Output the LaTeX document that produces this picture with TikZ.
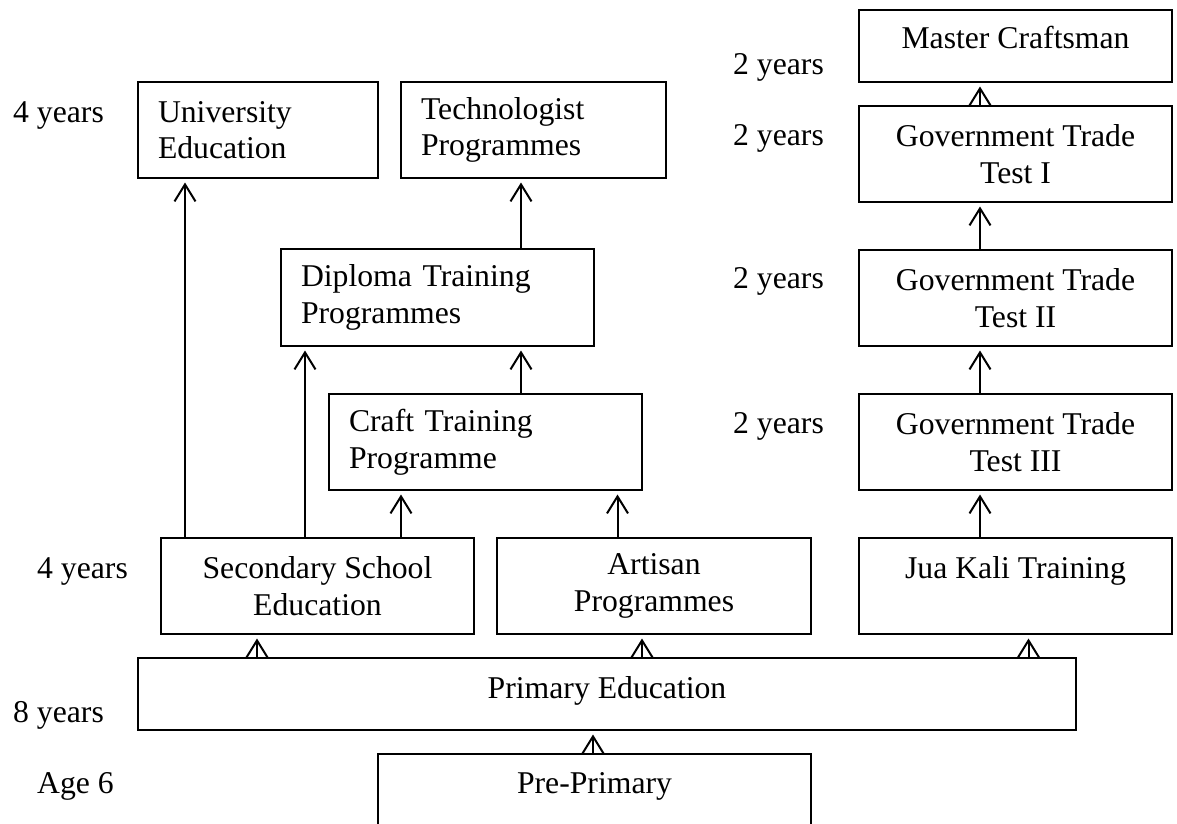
\documentclass[tikz,border=0pt]{standalone}
\usepackage{fontspec}
\setmainfont{Liberation Serif}
\usetikzlibrary{arrows.meta}
\begin{document}
\begin{tikzpicture}[x=1pt,y=-1pt,
  font=\fontsize{31.7}{36.5}\selectfont,
  box/.style={draw, line width=2pt, inner sep=0pt, align=center},
  lbox/.style={draw, line width=2pt, inner xsep=20pt, inner ysep=0pt, align=left},
  arr/.style={line width=2pt, -{Straight Barb[length=17pt,width=21pt]}, shorten >=3.5pt},
  yrs/.style={anchor=base west, inner sep=0pt}]
\useasboundingbox (0,0) rectangle (1177,823);
\clip (0,0) rectangle (1177,823);

% left / middle column
\node[lbox, text width=200pt, minimum width=240pt, minimum height=96pt] (univ) at (258,130) {University\\Education};
\node[lbox, text width=225pt, minimum width=265pt, minimum height=96pt] (tech) at (533.5,130) {Technologist\\Programmes};
\node[lbox, text width=273pt, minimum width=313pt, minimum height=97pt] (dipl) at (437.5,297.5) {Diploma Training\\Programmes};
\node[lbox, text width=273pt, minimum width=313pt, minimum height=96pt] (craft) at (485.5,442) {Craft Training\\Programme};
\node[box, minimum width=313pt, minimum height=96pt] (sec) at (317.5,586) {Secondary School\\Education};
\node[box, minimum width=314pt, minimum height=96pt] (art) at (654,586) {Artisan\\Programmes};
\node[box, minimum width=938pt, minimum height=72pt, text height=22pt, text depth=14pt] (prim) at (607,694) {Primary Education};
\node[box, minimum width=433pt, minimum height=96pt, text height=22pt, text depth=40pt] (pre) at (594.5,802) {Pre-Primary};

% right column
\node[box, minimum width=313pt, minimum height=72pt, text height=22pt, text depth=18pt] (master) at (1015.5,46) {Master Craftsman};
\node[box, minimum width=313pt, minimum height=96pt] (gt1) at (1015.5,154) {Government Trade\\Test I};
\node[box, minimum width=313pt, minimum height=96pt] (gt2) at (1015.5,298) {Government Trade\\Test II};
\node[box, minimum width=313pt, minimum height=96pt] (gt3) at (1015.5,442) {Government Trade\\Test III};
\node[box, minimum width=313pt, minimum height=96pt, text height=22pt, text depth=38pt] (jua) at (1015.5,586) {Jua Kali Training};

% durations
\node[yrs] (yU) at (13,122) {4 years};
\node[yrs] (yM) at (733,74) {2 years};
\node[yrs] (yG1) at (733,145) {2 years};
\node[yrs] (yG2) at (733,288) {2 years};
\node[yrs] (yG3) at (733,433) {2 years};
\node[yrs] (yS) at (37,578) {4 years};
\node[yrs] (yP) at (13,722) {8 years};
\node[yrs] (yA) at (37,793) {Age 6};

% connector columns
\coordinate (cU) at (185,0);
\coordinate (cD) at (305,0);
\coordinate (cC) at (401,0);
\coordinate (cT) at (521,0);
\coordinate (cA) at (617.5,0);
\coordinate (pS) at (257,0);
\coordinate (pA) at (642,0);
\coordinate (pJ) at (1028.5,0);
\coordinate (cR) at (980,0);
\coordinate (cP) at (593,0);

% progression arrows
\draw[arr] (sec.north -| cU) -- (univ.south -| cU);
\draw[arr] (sec.north -| cD) -- (dipl.south -| cD);
\draw[arr] (sec.north -| cC) -- (craft.south -| cC);
\draw[arr] (craft.north -| cT) -- (dipl.south -| cT);
\draw[arr] (dipl.north -| cT) -- (tech.south -| cT);
\draw[arr] (art.north -| cA) -- (craft.south -| cA);
\draw[arr] (prim.north -| pS) -- (sec.south -| pS);
\draw[arr] (prim.north -| pA) -- (art.south -| pA);
\draw[arr] (prim.north -| pJ) -- (jua.south -| pJ);
\draw[arr] (pre.north -| cP) -- (prim.south -| cP);
\draw[arr] (jua.north -| cR) -- (gt3.south -| cR);
\draw[arr] (gt3.north -| cR) -- (gt2.south -| cR);
\draw[arr] (gt2.north -| cR) -- (gt1.south -| cR);
\draw[arr] (gt1.north -| cR) -- (master.south -| cR);
\end{tikzpicture}
\end{document}
